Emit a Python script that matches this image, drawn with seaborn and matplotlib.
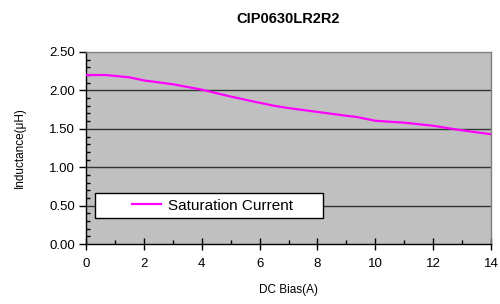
import matplotlib
matplotlib.use("Agg")
import matplotlib.pyplot as plt
import seaborn as sns
import pandas as pd
from matplotlib.ticker import MultipleLocator, FormatStrFormatter
from matplotlib.legend_handler import HandlerLine2D

# values
dc_bias = [0, 0.7, 1.5, 2, 3, 4, 5, 5.8, 6.5, 7, 8, 9, 9.35, 10, 11, 12, 13, 14]
inductance = [2.20, 2.20, 2.17, 2.13, 2.08, 2.01, 1.92, 1.855, 1.80, 1.77, 1.72, 1.67, 1.655, 1.605, 1.58, 1.54, 1.48, 1.43]
series_name = "Saturation Current"

df = pd.DataFrame({"x": dc_bias, "y": inductance})

plt.rcParams['font.family'] = ['Liberation Sans', 'DejaVu Sans']


class RightLineHandler(HandlerLine2D):
    # draw the legend line only in the right part of the handle box
    def create_artists(self, legend, orig_handle, xdescent, ydescent,
                       width, height, fontsize, trans):
        arts = super().create_artists(legend, orig_handle, xdescent, ydescent,
                                      width, height, fontsize, trans)
        x0 = -xdescent
        x1 = -xdescent + width
        for a in arts:
            if len(a.get_xdata()) >= 2:
                a.set_xdata([x0 + 0.52 * (x1 - x0), x1])
                a.set_ydata([a.get_ydata()[0]] * 2)
                a.set_markevery(None)
        return arts


fig = plt.figure(figsize=(5, 3.04), dpi=100)
ax = fig.add_axes([0.172, 0.197, 0.81, 0.632])
ax.set_facecolor('#c0c0c0')

for yv in [0.5, 1.0, 1.5, 2.0]:
    ax.axhline(yv, color='#333333', lw=1, zorder=1)

sns.lineplot(data=df, x="x", y="y", ax=ax, color='#ff00ff', lw=1.6,
             label=series_name, zorder=3)

ax.set_xlim(0, 14)
ax.set_ylim(0, 2.5)
ax.xaxis.set_major_locator(MultipleLocator(2))
ax.xaxis.set_minor_locator(MultipleLocator(1))
ax.yaxis.set_major_locator(MultipleLocator(0.5))
ax.yaxis.set_minor_locator(MultipleLocator(0.1))
ax.yaxis.set_major_formatter(FormatStrFormatter('%.2f'))
ax.tick_params(axis='x', which='major', direction='inout', length=8, width=1,
               labelsize=9.5, pad=6)
ax.tick_params(axis='y', which='major', direction='out', length=5, width=1,
               labelsize=9.5, pad=3)
ax.tick_params(axis='both', which='minor', direction='in', length=3, width=1)

for s in ['left', 'bottom']:
    ax.spines[s].set_color('black')
    ax.spines[s].set_linewidth(1)
for s in ['top', 'right']:
    ax.spines[s].set_color('#808080')
    ax.spines[s].set_linewidth(1)

ax.set_xlabel("DC Bias(A)", fontsize=8.5, labelpad=10)
ax.set_ylabel("Inductance(μH)", fontsize=8.5, labelpad=17)
ax.set_title("CIP0630LR2R2", fontsize=10.5, fontweight='bold', pad=21)

leg = ax.legend(loc='center left', bbox_to_anchor=(0.022, 0.0, 0.563, 0.4),
                mode='expand', frameon=True, fancybox=False, fontsize=11,
                handlelength=4.0, handletextpad=0.45, borderpad=0.35,
                borderaxespad=0, handler_map={plt.Line2D: RightLineHandler()})
leg.get_frame().set_edgecolor('black')
leg.get_frame().set_facecolor('white')
leg.get_frame().set_linewidth(1)
leg.get_frame().set_alpha(1)

fig.savefig("out.png", dpi=100)
